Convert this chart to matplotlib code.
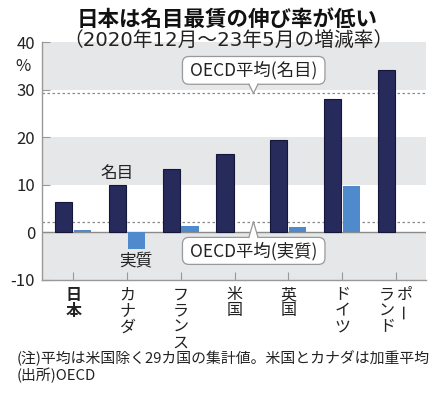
import numpy as np
import matplotlib.pyplot as plt
from matplotlib.patches import FancyBboxPatch, Polygon
import matplotlib.transforms as mtransforms

plt.rcParams['font.family'] = ['Noto Sans CJK JP', 'DejaVu Sans']

# データ (2020年12月～23年5月の増減率, %)
countries = ['日本', 'カナダ', 'フランス', '米国', '英国', 'ドイツ', 'ポーランド']
nominal = [6.4, 9.9, 13.4, 16.6, 19.4, 28.1, 34.2]
real = [0.6, -3.4, 1.3, 0.0, 1.1, 9.7, 0.0]
oecd_nominal = 29.3
oecd_real = 2.25
yticks = [-10, 0, 10, 20, 30, 40]

NAVY = '#262b5c'
BLUE = '#4f8bcc'
BG = '#e6e7e8'
GRID = '#8a8a8a'

fig = plt.figure(figsize=(4.48, 3.97), dpi=100)
ax = fig.add_axes([0.094, 0.295, 0.857, 0.598])

x = np.arange(len(countries))
w = 0.32

# 背景の帯
for lo in [-10, 10, 30]:
    ax.axhspan(lo, lo + 10, color=BG, zorder=0, lw=0)

ax.bar(x - 0.18, nominal, w, color=NAVY, edgecolor='#14173a', lw=0.8, zorder=3)
ax.bar(x + 0.17, real, w, color=BLUE, lw=0, zorder=3)

ax.axhline(0, color=GRID, lw=1, zorder=2)
for v in [oecd_nominal, oecd_real]:
    ax.axhline(v, color=GRID, lw=0.9, ls=(0, (2, 2)), zorder=1)

ax.set_xlim(-0.58, 6.56)
ax.set_ylim(-10, 40)
ax.set_yticks(yticks)
ax.set_yticklabels([str(t) for t in yticks], fontsize=12, color='#222222')
ax.set_xticks(x)
ax.set_xticklabels([])
ax.tick_params(axis='both', direction='in', length=6, color='#999999', width=0.8)
ax.tick_params(axis='y', pad=5)
for s in ['top', 'right']:
    ax.spines[s].set_visible(False)
for s in ['left', 'bottom']:
    ax.spines[s].set_color('#999999')
    ax.spines[s].set_linewidth(1)

ax.text(-0.05, 35.0, '%', transform=mtransforms.blended_transform_factory(ax.transAxes, ax.transData),
        fontsize=12, ha='center', va='center', color='#222222')

# 縦書きの国名
def vertical_label(xpos, text, dx=0, **kw):
    for j, ch in enumerate(text):
        rot = 90 if ch == 'ー' else 0
        ax.annotate(ch, xy=(xpos, 0), xycoords=('data', 'axes fraction'),
                    xytext=(dx, -15 - j * 16), textcoords='offset pixels',
                    ha='center', va='center', fontsize=11.5, rotation=rot,
                    color='#222222', annotation_clip=False, **kw)

for i, name in enumerate(countries):
    if name == 'ポーランド':
        vertical_label(i, name[:2], dx=8)
        vertical_label(i, name[2:], dx=-9)
    elif name == '日本':
        vertical_label(i, name, weight='bold')
    else:
        vertical_label(i, name)

ax.text(0.81, 12.4, '名目', fontsize=12, ha='center', va='center', color='#222222', zorder=5)
ax.text(1.16, -6.1, '実質', fontsize=12, ha='center', va='center', color='#222222', zorder=5)

# OECD平均の吹き出し
aspect = (50 / 237.5) / (7.14 / 384)
def callout(label, line_y, y0, y1, up):
    x0, x1, xc = 2.03, 4.68, 3.35
    box = FancyBboxPatch((x0, y0), x1 - x0, y1 - y0,
                         boxstyle='round,pad=0,rounding_size=0.12',
                         mutation_aspect=aspect, fc='white', ec='#999999', lw=0.9, zorder=6)
    ax.add_patch(box)
    base = y1 if up else y0
    inside = -0.4 if up else 0.4
    tri = Polygon([(xc - 0.085, base + inside), (xc, line_y), (xc + 0.085, base + inside)],
                  closed=True, fc='white', ec='none', zorder=7)
    ax.add_patch(tri)
    ax.plot([xc - 0.085, xc, xc + 0.085], [base, line_y, base], color='#999999', lw=0.9, zorder=8)
    ax.text((x0 + x1) / 2, (y0 + y1) / 2, label, fontsize=12.5, ha='center', va='center',
            color='#222222', zorder=9)

callout('OECD平均(名目)', oecd_nominal, 31.2, 37.05, up=False)
callout('OECD平均(実質)', oecd_real, -6.74, -1.05, up=True)

fig.text(0.507, 0.95, '日本は名目最賃の伸び率が低い', fontsize=15.5, weight='bold',
         ha='center', va='center', color='#111111')
fig.text(0.511, 0.899, '（2020年12月～23年5月の増減率）', fontsize=14.2,
         family=['DejaVu Sans', 'Noto Sans CJK JP'],
         ha='center', va='center', color='#222222')
fig.text(0.038, 0.098, '(注)平均は米国除く29カ国の集計値。米国とカナダは加重平均',
         fontsize=10.7, ha='left', va='center', color='#222222')
fig.text(0.038, 0.055, '(出所)OECD', fontsize=10.7, ha='left', va='center', color='#222222')

fig.savefig('out.png', dpi=100, facecolor='white')
